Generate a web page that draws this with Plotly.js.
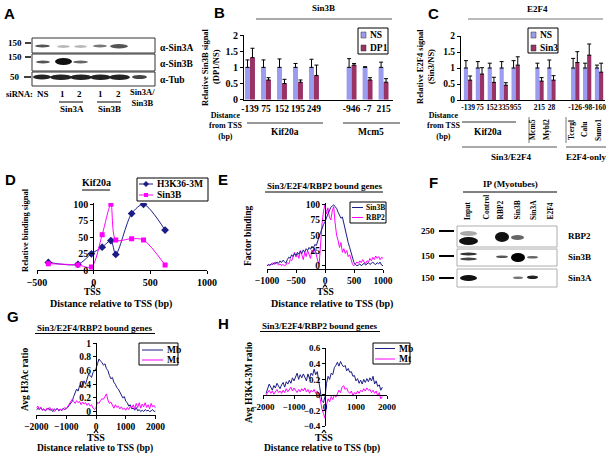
<!DOCTYPE html>
<html><head><meta charset="utf-8">
<script src="https://cdn.plot.ly/plotly-3.0.1.min.js"></script>
<style>html,body{margin:0;padding:0;background:#fff}#chart{width:612px;height:457px}</style>
</head><body><div id="chart"></div>
<script>
// ---------------- DATA ----------------
// Panel B: Sin3B ChIP, DP1 vs NS siRNA
const bCategories = ['-139','75','152','195','249','-946','-7','215'];
const bNS = [1,1,1,1,1,1,1,1];
const bNSErr = [0.23,0.23,0.26,0.12,0.25,0.27,0.02,0.16];
const bDP1 = [1.3,0.61,0.5,0.54,0.75,1.07,0.61,0.54];
const bDP1Err = [0.29,0.07,0.13,0.07,0.32,0.05,0.07,0.11];
const bGroups = ['Kif20a','Mcm5'];

// Panel C: E2F4 ChIP, Sin3 vs NS siRNA
const cCategories = ['-139','75','152','335','955','215','28','-126','-98','-160'];
const cNS = [1,1,1,1,1,1,1,1,1,1];
const cNSErr = [0.23,0.2,0.15,0.2,0.23,0.15,0.25,0.3,0.15,0.09];
const cSin3 = [0.62,0.81,0.55,0.46,1.09,0.59,0.62,1.17,1.4,0.87];
const cSin3Err = [0.13,0.2,0.16,0.08,0.26,0.11,0.14,0.34,0.35,0.28];
const cGenes = ['Mcm5','Mybl2','Tcergl','Calu','Sumo1'];

// Panel D: Kif20a
const dX = [-400,-139,-20,75,152,195,335,440,630];
const dH3K36 = [12,9,25,35,45,24,86,100,61];
const dSin3B = [10,8,5,54,100,46,48,46,8];

// Panel E: Sin3B / RBP2 factor binding (-1000..1000, step 25)
const eStart = -1000, eStep = 25;
const eSin3B = [0,2,1,3,2, 5,3,6,4,8, 5,9,7,4,10, 14,12,18,15,20, 17,22,19,24,20,
  26,22,28,25,30, 27,32,29,35,33, 42,48,55,62,68, 72,80,85,90,96, 98,100,97,94,88,
  82,78,80,68,58, 48,38,30,22,12, 5,2,0,1,3, 0,2,4,1,3, 5,2,4,6,3, 2,5,3,6,1, 0];
const eRBP2 = [0,1,0,3,5, 2,6,4,1,3, 0,2,0,1,5, 3,10,8,15,22, 14,20,12,25,18,
  10,22,15,25,18, 12,26,20,28,15, 8,3,40,70,90, 100,85,95,80,75, 90,97,70,50,42,
  30,38,22,28,20, 25,15,18,8,2, 0,3,6,4,8, 5,10,6,3,8, 6,12,8,14,10, 16,12,15,10,14, 12];

// Panel G: Avg H3Ac ratio (-2000..2000, step 50)
const gStart = -2000, gStep = 50;
const gMb = [0.02,0.05,0.03,0.06,0.02, 0.04,0.01,0.03,0.05,0.02, 0.03,0.00,0.04,0.02,0.05,
  0.01,0.03,0.02,0.05,0.03, 0.04,0.06,0.09,0.12,0.15, 0.22,0.28,0.33,0.30,0.38,
  0.36,0.42,0.45,0.40,0.48, 0.55,0.53,0.50,0.57,0.60, 0.63,0.70,0.77,0.74,0.72,
  0.68,0.70,0.63,0.60,0.53, 0.48,0.50,0.43,0.40,0.35, 0.33,0.28,0.25,0.20,0.22,
  0.15,0.13,0.08,0.10,0.04, 0.05,0.02,0.06,0.01,0.03, 0.00,0.02,0.00,0.03,0.01,
  0.02,0.00,0.01,0.03,0.00, 0.01];
const gMt = [0.05,0.08,0.03,0.06,0.02, 0.04,0.01,0.05,0.03,0.06, 0.02,0.04,0.00,0.03,0.05,
  0.02,0.04,0.01,0.03,0.06, 0.04,0.08,0.10,0.14,0.18, 0.15,0.12,0.16,0.13,0.15,
  0.10,0.14,0.11,0.13,0.09, 0.12,0.08,0.10,0.05,0.03, 0.06,0.14,0.12,0.16,0.19,
  0.18,0.22,0.26,0.17,0.12, 0.14,0.08,0.05,0.10,0.06, 0.08,0.04,0.07,0.03,0.05,
  0.02,0.06,0.03,0.08,0.05, 0.10,0.04,0.12,0.06,0.13, 0.05,0.11,0.07,0.13,0.06,
  0.10,0.04,0.12,0.07,0.09, 0.05];

// Panel H: Avg H3K4-3M ratio (-1900..1850, step 50)
const hStart = -1900, hStep = 50;
const hMb = [0.02,0.08,0.14,0.10,0.06, 0.12,0.09,0.15,0.11,0.08, 0.13,0.16,0.10,0.17,0.14,
  0.19,0.15,0.22,0.18,0.24, 0.28,0.20,0.26,0.22,0.27, 0.23,0.18,0.27,0.21,0.28,
  0.25,0.33,0.26,0.30,0.18, 0.05,-0.08,-0.10,-0.02,0.15, 0.24,0.20,0.28,0.26,0.35,
  0.38,0.42,0.37,0.43,0.39, 0.36,0.38,0.31,0.34,0.29, 0.30,0.24,0.25,0.18,0.21,
  0.15,0.19,0.14,0.20,0.16, 0.21,0.17,0.22,0.18,0.24, 0.14,0.18,0.11,0.13,0.06, 0.10];
const hMt = [0.00,0.03,0.06,0.02,0.05, 0.01,0.04,0.07,0.03,0.05, 0.02,0.06,0.03,0.08,0.04,
  0.07,0.10,0.05,0.09,0.06, 0.03,0.07,0.04,0.08,0.05, 0.09,0.04,0.07,0.02,0.06,
  0.04,0.07,0.02,0.05,0.01, -0.06,-0.18,-0.24,-0.30,-0.12, -0.05,-0.09,-0.02,-0.06,0.00,
  -0.03,0.02,0.06,0.03,0.10, 0.12,0.07,0.09,0.04,0.02, 0.05,-0.01,0.03,0.01,0.05,
  0.02,0.06,0.04,0.08,0.05, 0.09,0.06,0.07,0.03,0.06, 0.02,0.05,-0.01,0.03,-0.05, -0.02];

// ---------------- STYLE / LAYOUT HELPERS ----------------
const W = 612, H = 457;
const SERIF = 'Liberation Serif, Times New Roman, serif';
const SANS = 'Liberation Sans, Arial, sans-serif';
const NAVY = '#1c1c86', MAG = '#ff00ff', LAV = '#9b9bf0', MAR = '#993366';
const fx = p => p / W, fy = p => 1 - p / H;
const grid = (s, st, n) => Array.from({length: n}, (_, i) => s + i * st);

const shapes = [], annotations = [];
function L(x0,y0,x1,y1,w,c){shapes.push({type:'line',xref:'paper',yref:'paper',x0:fx(x0),y0:fy(y0),x1:fx(x1),y1:fy(y1),line:{width:w||1,color:c||'#000'}});}
function R(x0,y0,x1,y1,fill,lc,lw){shapes.push({type:'rect',xref:'paper',yref:'paper',x0:fx(x0),y0:fy(y0),x1:fx(x1),y1:fy(y1),fillcolor:fill||'rgba(0,0,0,0)',line:{width:lw===undefined?1:lw,color:lc||'#000'}});}
function B(x0,y0,x1,y1,fill){shapes.push({type:'circle',xref:'paper',yref:'paper',x0:fx(x0),y0:fy(y0),x1:fx(x1),y1:fy(y1),fillcolor:fill,line:{width:0}});}
function P(pts,fill){shapes.push({type:'path',xref:'paper',yref:'paper',path:'M'+pts.map(p=>fx(p[0])+','+fy(p[1])).join(' L')+' Z',fillcolor:fill,line:{width:0}});}
function T(text,x,y,size,o){o=o||{};annotations.push({text:text,x:fx(x),y:fy(y),xref:'paper',yref:'paper',showarrow:false,
  xanchor:o.xa||'center',yanchor:o.ya||'middle',textangle:o.ang||0,
  font:{family:o.fam||SERIF,size:size,color:o.col||'#000',weight:o.w||'bold'}});}
// caret drawn as a small mark, then the "TSS" label under it
function TSS(x,yc,yt,s){L(x-2,yc+2,x,yc-1,1.2); L(x,yc-1,x+2,yc+2,1.2); T('TSS',x,yt,s||10);}

// ---------------- TRACES ----------------
const traces = [];
const bPos = bCategories.map((c,i)=> i + (i>=5 ? 1.35 : 0));
const bw = 0.31;
traces.push({type:'bar',x:bPos,y:bNS,xaxis:'x',yaxis:'y',width:bw,offset:-bw,marker:{color:LAV,line:{width:0}},
  error_y:{type:'data',symmetric:false,array:bNSErr,arrayminus:bNS.map(()=>0),color:'#000',thickness:1,width:2}});
traces.push({type:'bar',x:bPos,y:bDP1,xaxis:'x',yaxis:'y',width:bw,offset:0,marker:{color:MAR,line:{width:0}},
  error_y:{type:'data',symmetric:false,array:bDP1Err,arrayminus:bDP1.map(()=>0),color:'#000',thickness:1,width:2}});
const cPos = cCategories.map((c,i)=> i + (i>=5 ? 1 : 0) + (i>=7 ? 1 : 0));
const cw = 0.35;
traces.push({type:'bar',x:cPos,y:cNS,xaxis:'x2',yaxis:'y2',width:cw,offset:-cw,marker:{color:LAV,line:{width:0}},
  error_y:{type:'data',symmetric:false,array:cNSErr,arrayminus:cNS.map(()=>0),color:'#000',thickness:1,width:2}});
traces.push({type:'bar',x:cPos,y:cSin3,xaxis:'x2',yaxis:'y2',width:cw,offset:0,marker:{color:MAR,line:{width:0}},
  error_y:{type:'data',symmetric:false,array:cSin3Err,arrayminus:cSin3.map(()=>0),color:'#000',thickness:1,width:2}});
traces.push({type:'scatter',mode:'lines+markers',x:dX,y:dH3K36,xaxis:'x3',yaxis:'y3',line:{color:NAVY,width:1,shape:'spline',smoothing:0.8},marker:{symbol:'diamond',size:6,color:NAVY}});
traces.push({type:'scatter',mode:'lines+markers',x:dX,y:dSin3B,xaxis:'x3',yaxis:'y3',line:{color:MAG,width:1,shape:'spline',smoothing:0.8},marker:{symbol:'square',size:5,color:MAG}});
const eX = grid(eStart,eStep,eSin3B.length);
traces.push({type:'scatter',mode:'lines',x:eX,y:eRBP2,xaxis:'x4',yaxis:'y4',line:{color:MAG,width:1}});
traces.push({type:'scatter',mode:'lines',x:eX,y:eSin3B,xaxis:'x4',yaxis:'y4',line:{color:NAVY,width:1}});
const gX = grid(gStart,gStep,gMb.length);
traces.push({type:'scatter',mode:'lines',x:gX,y:gMb,xaxis:'x5',yaxis:'y5',line:{color:NAVY,width:1}});
traces.push({type:'scatter',mode:'lines',x:gX,y:gMt,xaxis:'x5',yaxis:'y5',line:{color:MAG,width:1}});
const hX = grid(hStart,hStep,hMb.length);
traces.push({type:'scatter',mode:'lines',x:hX,y:hMb,xaxis:'x6',yaxis:'y6',line:{color:NAVY,width:1}});
traces.push({type:'scatter',mode:'lines',x:hX,y:hMt,xaxis:'x6',yaxis:'y6',line:{color:MAG,width:1}});

// ---------------- AXES ----------------
function tf(s){return {family:SERIF,size:s,color:'#000',weight:'bold'};}
function ax(extra){return Object.assign({showgrid:false,zeroline:false,showline:true,linecolor:'#000',linewidth:1,
  ticks:'outside',ticklen:3,tickcolor:'#000',tickwidth:1,fixedrange:true,tickangle:0,tickfont:tf(10)},extra);}

const layout = {
  width:W,height:H,margin:{l:0,r:0,t:0,b:0},paper_bgcolor:'#fff',plot_bgcolor:'rgba(0,0,0,0)',
  showlegend:false,barmode:'overlay',
  xaxis: ax({domain:[fx(244),fx(393)],range:[-0.375,8.94],anchor:'y',ticks:'',tickvals:bPos,ticktext:bCategories,tickfont:tf(9.5)}),
  yaxis: ax({domain:[fy(99.7),fy(35)],range:[0,2],anchor:'x',tickvals:[0,0.5,1,1.5,2]}),
  xaxis2: ax({domain:[fx(461),fx(605)],range:[-0.59,11.5],anchor:'y2',ticks:'',tickvals:cPos,ticktext:cCategories,tickfont:tf(7.5)}),
  yaxis2: ax({domain:[fy(100),fy(36)],range:[0,2],anchor:'x2',tickvals:[0,0.5,1,1.5,2],tickfont:tf(9.5)}),
  xaxis3: ax({domain:[fx(37),fx(207)],range:[-500,1000],anchor:'y3',tickvals:[-500,0,500,1000]}),
  yaxis3: ax({domain:[fy(270.3),fy(203)],range:[0,102],anchor:'free',position:fx(93.3),tickvals:[0,25,50,75,100]}),
  xaxis4: ax({domain:[fx(267),fx(383)],range:[-1000,1000],anchor:'y4',tickvals:[-1000,-500,0,500,1000],tickfont:tf(9.5)}),
  yaxis4: ax({domain:[fy(269),fy(203)],range:[-5.4,103],anchor:'free',position:fx(325),tickvals:[0,25,50,75,100],tickfont:tf(9.5)}),
  xaxis5: ax({domain:[fx(36.4),fx(155.6)],range:[-2000,2000],anchor:'y5',tickvals:[-2000,-1000,0,1000,2000],tickfont:tf(9.5)}),
  yaxis5: ax({domain:[fy(415),fy(343.3)],range:[-0.05,1],anchor:'free',position:fx(96),tickvals:[0,0.2,0.4,0.6,0.8,1],tickfont:tf(9.5)}),
  xaxis6: ax({domain:[fx(263),fx(387)],range:[-2000,2000],anchor:'free',position:fy(394.9),tickvals:[-2000,-1000,0,1000,2000],tickfont:tf(9)}),
  yaxis6: ax({domain:[fy(426),fy(348.3)],range:[-0.4,0.6],anchor:'free',position:fx(325),tickvals:[-0.4,-0.2,0,0.2,0.4,0.6],tickfont:tf(9)}),
  shapes:shapes, annotations:annotations
};

// ---------------- PANEL LETTERS ----------------
[['A',9,13],['B',219,12],['C',433,13],['D',10,179],['E',223,179],['F',433,182],['G',13,316],['H',224,323]]
  .forEach(a=>T(a[0],a[1],a[2],15,{fam:SANS}));

// ---------------- PANEL A (western blot) ----------------
R(32,38,155,53,'#fff','#333',1); R(32,54,155,71,'#fff','#333',1); R(32,72,155,86,'#fff','#333',1);
B(35,44.5,50,47.5,'#555'); B(57,45,70,48,'#bbb'); B(74,45,87,48,'#bbb'); B(93,44.5,107,47.5,'#777'); B(110,44,128,48.5,'#555');
B(36,60.5,50,63.5,'#555'); B(55,58,72,65,'#111'); B(73,60.5,88,63.5,'#666');
B(33,74.5,51,79.5,'#222'); B(50,74.5,72,80,'#222'); B(70,74.5,92,80,'#222'); B(90,74.5,111,80,'#222'); B(109,74.5,130,80,'#222'); B(132,75,147,79,'#444');
T('150',24,43,9,{xa:'right'}); L(25,43,31,43,1.5);
T('150',24,57,9,{xa:'right'}); L(25,57,31,57,1.5);
T('50',22,77,9,{xa:'right'}); L(24,77,31,77,1.5);
T('α-Sin3A',158,48,9.5,{xa:'left'}); T('α-Sin3B',158,64,9.5,{xa:'left'}); T('α-Tub',158,80,9.5,{xa:'left'});
T('siRNA:',19,94,8.5); T('NS',43,94,9); T('1',62,94,9); T('2',79,94,9); T('1',100,94,9); T('2',118,94,9);
T('Sin3A/<br>Sin3B',142,98,8.5);
L(59,102,83,102,1); L(97,102,121,102,1);
T('Sin3A',72,109,9); T('Sin3B',109,109,9);

// ---------------- PANEL B annotations ----------------
T('Sin3B',323,8,9); L(256,19,392,19,1,'#555');
T('Relative Sin3B signal',205,67,8.5,{ang:-90}); T('(DP1/NS)',216,67,8.5,{ang:-90});
R(358,28,388,54,'#fff','#000',1);
R(361,32,366,38,LAV,'#333',0.5); T('NS',368,35,9.5,{xa:'left'});
R(361,45,366,51,MAR,'#333',0.5); T('DP1',368,48,9.5,{xa:'left'});
T('Distance<br>from TSS<br>(bp)',207,126,8,{xa:'left'});
L(247,123,323,123,1,'#333'); T(bGroups[0],285,132,9.5);
L(343,123,400,123,1,'#333'); T(bGroups[1],371,132,9.5);

// ---------------- PANEL C annotations ----------------
T('E2F4',537,9,9); L(468,19,603,19,1,'#777');
T('Relative E2F4 signal',420,67,8.5,{ang:-90}); T('(Sin3/NS)',431,67,8.5,{ang:-90});
R(528,28,558,53,'#fff','#000',1);
R(531,32,536,38,LAV,'#333',0.5); T('NS',538,35,9.5,{xa:'left'});
R(531,45,536,51,MAR,'#333',0.5); T('Sin3',538,48,9.5,{xa:'left'});
T('Distance<br>from TSS<br>(bp)',425,126,8,{xa:'left'});
L(462,122,516,122,1,'#333'); T('Kif20a',488,132,9.5);
[[533,cGenes[0]],[547,cGenes[1]],[572,cGenes[2]],[585,cGenes[3]],[599,cGenes[4]]].forEach(g=>T(g[1],g[0],130,7.5,{ang:-90}));
L(529,117,529,143,0.8,'#555'); L(566,117,566,143,0.8,'#555');
L(462,147,557,147,1,'#555'); L(566,147,606,147,1,'#555');
T('Sin3/E2F4',511,157,9); T('E2F4-only',586,157,9);

// ---------------- PANEL D annotations ----------------
T('Kif20a',96,183,10); L(82,190,110,190,1);
R(137,178,208,201,'#fff','#000',1);
L(139,184,153,184,1,NAVY); P([[146,181],[149,184],[146,187],[143,184]],NAVY); T('H3K36-3M',155,184,9.5,{xa:'left'});
L(139,195,153,195,1,MAG); R(144,193,148,197,MAG,MAG,0); T('Sin3B',155,195,9.5,{xa:'left'});
T('Relative binding signal',25,230,8.5,{ang:-90});
TSS(93,285.5,292,9.5);
T('Distance relative to TSS (bp)',111,303.5,10);

// ---------------- PANEL E annotations ----------------
T('Sin3/E2F4/RBP2 bound genes',325,185.5,9); L(265,192,383,192,1);
R(350,202,386,223,'#fff','#000',1);
L(352,207.5,363,207.5,1,NAVY); T('Sin3B',364,207.5,7.5,{xa:'left'});
L(352,217.5,363,217.5,1,MAG); T('RBP2',364,217.5,7.5,{xa:'left'});
T('Factor binding',248,236,9.5,{ang:-90});
TSS(325,285.5,292,9.5);
T('Distance relative to TSS (bp)',332,303.5,10);

// ---------------- PANEL F (IP blot) ----------------
T('IP (Myotubes)',510,184,9); L(463,192,557,192,1);
[['Input',467],['Control',486],['RBP2',500],['Sin3B',517],['Sin3A',533],['E2F4',550]].forEach(l=>T(l[0],l[1],222,7.5,{ang:-90,ya:'bottom'}));
R(457,226,557,247,'#fff','#999',0.8); R(457,249,557,266,'#fff','#999',0.8); R(457,269,557,287,'#fff','#999',0.8);
B(460,231,477,236,'#aaa'); B(459,237,478,245,'#111'); B(495,232,509,242,'#111'); B(511,235,524,240,'#666');
B(460,252.5,477,255.5,'#333'); B(460,257.5,477,260.5,'#444'); B(496,255.5,508,258,'#555'); B(511,253,525,262,'#000'); B(527,256,538,258.5,'#666');
B(460,275,477,281,'#111'); B(513,276.5,523,279,'#777'); B(527,275.5,538,279,'#222');
T('250',437,231,9,{xa:'right'}); L(439,231,454,231,2);
T('150',437,256,9,{xa:'right'}); L(439,256,454,256,2);
T('150',437,278,9,{xa:'right'}); L(439,278,454,278,2);
T('RBP2',566,236,9,{xa:'left'}); T('Sin3B',566,257,9,{xa:'left'}); T('Sin3A',566,278,9,{xa:'left'});

// ---------------- PANEL G annotations ----------------
T('Sin3/E2F4/RBP2 bound genes',95,328,9); L(35,333.5,155,333.5,1);
R(139,343,178,365,'#fff','#000',1);
L(142,350,163,350,1,NAVY); T('Mb',165,350,9.5,{xa:'left'});
L(142,360,163,360,1,MAG); T('Mt',165,360,9.5,{xa:'left'});
T('Avg H3Ac ratio',25,380,9.5,{ang:-90});
TSS(96,431,437.5);
T('Distance relative to TSS (bp)',95,448,9.5);

// ---------------- PANEL H annotations ----------------
T('Sin3/E2F4/RBP2 bound genes',320,326,9); L(260,331.5,380,331.5,1);
R(373,343,410,364,'#fff','#000',1);
L(375,348.5,395,348.5,1,NAVY); T('Mb',397,348.5,9.5,{xa:'left'});
L(375,359,395,359,1,MAG); T('Mt',397,359,9.5,{xa:'left'});
T('Avg H3K4-3M ratio',249,383,9.5,{ang:-90});
TSS(324,431,437.5);
T('Distance relative to TSS (bp)',322,448,9.5);

Plotly.newPlot('chart',traces,layout,{staticPlot:true,displayModeBar:false});
</script></body></html>
